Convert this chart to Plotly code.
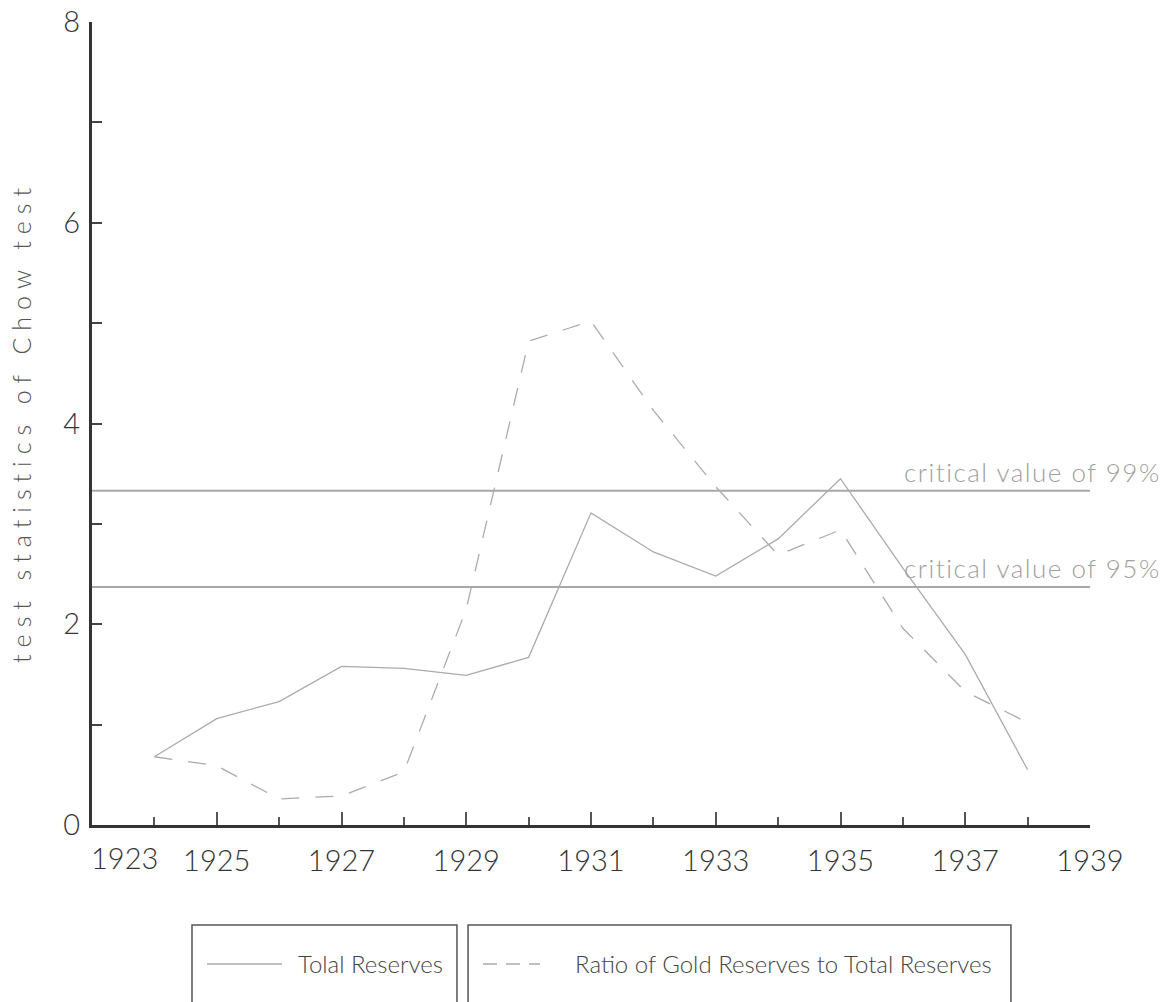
import plotly.graph_objects as go

# ---- data ----
years = [1924, 1925, 1926, 1927, 1928, 1929, 1930, 1931, 1932, 1933, 1934, 1935, 1936, 1937, 1938]
total_reserves = [0.68, 1.06, 1.23, 1.58, 1.56, 1.49, 1.67, 3.11, 2.72, 2.48, 2.85, 3.45, 2.56, 1.70, 0.55]
gold_ratio = [0.68, 0.59, 0.26, 0.29, 0.53, 2.15, 4.82, 5.02, 4.13, 3.37, 2.69, 2.94, 1.96, 1.33, 1.02]
crit_values = [3.33, 2.37]
crit_labels = ["critical value of 99%", "critical value of 95%"]
x_range = [1923, 1939]
x_label_years = [1923, 1925, 1927, 1929, 1931, 1933, 1935, 1937, 1939]
y_label_vals = [0, 2, 4, 6, 8]
series_names = ["Tolal Reserves", "Ratio of Gold Reserves to Total Reserves"]
y_title = "test statistics of Chow test"

FONT = "Lato, Liberation Sans, sans-serif"
W = 300
LINE_GRAY = "#ababab"
AXIS = "#333333"

fig = go.Figure()

# critical value lines
for v in crit_values:
    fig.add_trace(go.Scatter(x=x_range, y=[v, v], mode="lines",
                             line=dict(color="#a8a8a8", width=2),
                             showlegend=False, hoverinfo="skip"))

fig.add_trace(go.Scatter(x=years, y=total_reserves, mode="lines", name=series_names[0],
                         line=dict(color=LINE_GRAY, width=1.3), showlegend=False))
fig.add_trace(go.Scatter(x=years, y=gold_ratio, mode="lines", name=series_names[1],
                         line=dict(color=LINE_GRAY, width=1.3, dash="18px,16px"), showlegend=False))

annotations = []
for v, lab in zip(crit_values, crit_labels):
    annotations.append(dict(
        x=x_range[1], y=v, xref="x", yref="y", xanchor="right", yanchor="bottom",
        xshift=73, yshift=1, showarrow=False,
        text=f'<span style="letter-spacing:1.5px">{lab}</span>',
        font=dict(family=FONT, size=26, color="#a0a0a0", weight=W)))

# first x label is offset to the right of the corner
annotations.append(dict(
    x=x_label_years[0], y=0, xref="x", yref="y", xanchor="center", yanchor="top",
    xshift=32, yshift=-13, showarrow=False, text=str(x_label_years[0]),
    font=dict(family=FONT, size=29, color="#333333", weight=W)))

# y title
annotations.append(dict(
    x=-0.0711, y=0.502, xref="paper", yref="paper", xanchor="center", yanchor="middle",
    textangle=-90, showarrow=False,
    text=f'<span style="letter-spacing:7px">{y_title}</span>',
    font=dict(family=FONT, size=25, color="#555555", weight=W)))

# legend boxes (drawn below the plot)
box_y0, box_y1 = -0.24, -0.1245
shapes = [
    dict(type="rect", xref="paper", yref="paper", x0=0.1002, x1=0.3657, y0=box_y0, y1=box_y1,
         line=dict(color="#555555", width=1.5)),
    dict(type="rect", xref="paper", yref="paper", x0=0.3768, x1=0.9208, y0=box_y0, y1=box_y1,
         line=dict(color="#555555", width=1.5)),
    dict(type="line", xref="paper", yref="paper", x0=0.1152, x1=0.1904, y0=-0.1731, y1=-0.1731,
         line=dict(color=LINE_GRAY, width=1.3)),
    dict(type="line", xref="paper", yref="paper", x0=0.3918, x1=0.4489, y0=-0.1731, y1=-0.1731,
         line=dict(color=LINE_GRAY, width=1.3, dash="14px,9px")),
]
annotations.append(dict(x=0.2044, y=-0.1719, xref="paper", yref="paper", xanchor="left",
                        yanchor="middle", showarrow=False, text=series_names[0],
                        font=dict(family=FONT, size=24, color="#444444", weight=W)))
annotations.append(dict(x=0.4815, y=-0.1719, xref="paper", yref="paper", xanchor="left",
                        yanchor="middle", showarrow=False, text=series_names[1],
                        font=dict(family=FONT, size=24, color="#444444", weight=W)))

fig.update_layout(
    width=1175, height=1002,
    margin=dict(l=92, r=85, t=22, b=177, autoexpand=False),
    paper_bgcolor="white", plot_bgcolor="white",
    showlegend=False,
    annotations=annotations,
    shapes=shapes,
    xaxis=dict(range=x_range, showgrid=False, zeroline=False, automargin=False,
               showline=True, linecolor=AXIS, linewidth=3,
               tickmode="array", tickvals=x_label_years[1:],
               ticktext=[str(y) for y in x_label_years[1:]],
               ticks="inside", ticklen=13, tickwidth=1.5, tickcolor="#555555",
               ticklabelstandoff=8,
               minor=dict(dtick=1, tick0=x_range[0], ticks="inside", ticklen=8,
                          tickwidth=1.5, tickcolor="#555555", showgrid=False),
               tickfont=dict(family=FONT, size=29, color="#333333", weight=W)),
    yaxis=dict(range=[0, 8], showgrid=False, zeroline=False, automargin=False,
               showline=True, linecolor=AXIS, linewidth=3,
               tickmode="array", tickvals=y_label_vals,
               ticktext=[str(v) for v in y_label_vals],
               ticks="inside", ticklen=10, tickwidth=2, tickcolor="#444444",
               ticklabelstandoff=3,
               minor=dict(dtick=1, tick0=0, ticks="inside", ticklen=10,
                          tickwidth=2, tickcolor="#444444", showgrid=False),
               tickfont=dict(family=FONT, size=29, color="#333333", weight=W)),
)

fig.write_html("out.html", config={"displayModeBar": False},
               post_script="document.body.style.margin='0px';")
